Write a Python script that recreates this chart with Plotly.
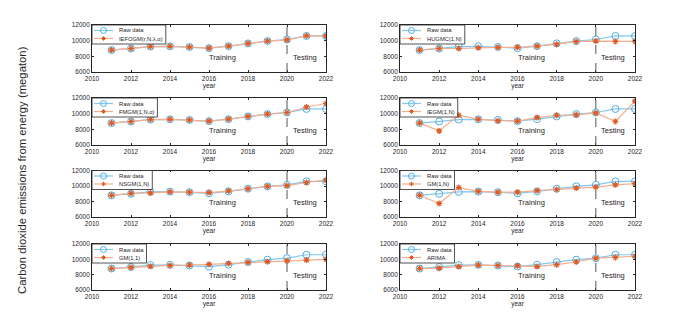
import plotly.graph_objects as go

years = list(range(2011, 2023))
raw = [8800, 9000, 9250, 9280, 9200, 9050, 9300, 9650, 9950, 10150, 10600, 10600]

model_names = ["IEFOGM(r,N,λ,α)", "HUGMC(1,N)", "FMGM(1,N,α)", "IEGM(1,N)",
               "NSGM(1,N)", "GM(1,N)", "GM(1,1)", "ARIMA"]
iefogm = [8800, 9000, 9250, 9280, 9200, 9050, 9300, 9650, 9950, 10100, 10620, 10600]
hugmc = [8800, 9000, 9000, 9100, 9150, 9150, 9300, 9550, 9900, 9950, 9900, 9900]
fmgm = [8800, 9000, 9250, 9280, 9200, 9050, 9300, 9650, 9950, 10150, 10850, 11300]
iegm = [8800, 7800, 9800, 9280, 9100, 9050, 9500, 9800, 9850, 10100, 9000, 11600]
nsgm = [8800, 9050, 9100, 9250, 9200, 9150, 9350, 9650, 9950, 10050, 10450, 10750]
gm1n = [8800, 7750, 9800, 9300, 9200, 9200, 9400, 9550, 9750, 9850, 10150, 10300]
gm11 = [8800, 8950, 9100, 9200, 9250, 9350, 9450, 9600, 9700, 9800, 9900, 10000]
arima = [8800, 8850, 9050, 9250, 9200, 9150, 9050, 9300, 9650, 10150, 10250, 10400]
models = [iefogm, hugmc, fmgm, iegm, nsgm, gm1n, gm11, arima]

x_ticks = [2010, 2012, 2014, 2016, 2018, 2020, 2022]
y_ticks = [6000, 8000, 10000, 12000]

W, H = 700, 332
OFF = 8  # page body margin
def PX(px):
    return (px - OFF) / W
def PY(py):
    return 1 - (py - OFF) / H

col_px = [(92, 326), (400, 635)]
row_px = [(25, 72), (98, 145), (170.5, 217), (244, 290)]

BLUE_L, BLUE_M = "#86C7EC", "#4FAFE2"
ORG_L, ORG_M = "#F6AD8E", "#DE5B24"
TXT = "#262626"
font_family = "Liberation Sans, Arial, sans-serif"
LEG_FS = 5.8

CW = {'I': .278, 'E': .667, 'F': .611, 'O': .778, 'G': .778, 'M': .833, 'H': .722, 'U': .722,
      'C': .722, 'N': .722, 'S': .667, 'A': .667, 'R': .722, '(': .333, ')': .333, ',': .278,
      'r': .333, 'λ': .5, 'α': .55, ' ': .278, 'a': .556, 'w': .722, 'd': .556, 't': .278, '1': .556}
def textw(s, fs):
    return sum(CW.get(ch, .556) for ch in s) * fs

fig = go.Figure()
shapes = []
annotations = []

for i, (name, vals) in enumerate(zip(model_names, models)):
    r, c = divmod(i, 2)
    k = i + 1
    xa = "x" if k == 1 else f"x{k}"
    ya = "y" if k == 1 else f"y{k}"
    x0, x1 = col_px[c]
    y0, y1 = row_px[r]
    fig.add_trace(go.Scatter(x=years, y=raw, mode="lines+markers", name="Raw data",
                             line=dict(color=BLUE_L, width=1.2),
                             marker=dict(symbol="circle-open", size=7, color=BLUE_M, line=dict(width=1)),
                             xaxis=xa, yaxis=ya, showlegend=False))
    fig.add_trace(go.Scatter(x=years, y=vals, mode="lines+markers", name=name,
                             line=dict(color=ORG_L, width=1.2),
                             marker=dict(symbol="asterisk-open", size=5, color=ORG_M, line=dict(width=1.2, color=ORG_M)),
                             xaxis=xa, yaxis=ya, showlegend=False))
    axcommon = dict(showgrid=False, zeroline=False, showline=True, mirror="ticks",
                    linecolor=TXT, linewidth=0.8, ticks="inside", ticklen=2,
                    tickcolor=TXT, tickfont=dict(size=6.5, color=TXT, family=font_family))
    fig.update_layout(**{
        ("xaxis" if k == 1 else f"xaxis{k}"): dict(
            domain=[PX(x0), PX(x1)], range=[2010, 2022], tickvals=x_ticks, anchor=ya,
            title=dict(text="year", font=dict(size=6.5, color=TXT, family=font_family), standoff=1),
            automargin=False, **axcommon),
        ("yaxis" if k == 1 else f"yaxis{k}"): dict(
            domain=[PY(y1), PY(y0)], range=[6000, 12000], tickvals=y_ticks,
            tickformat="d", anchor=xa, automargin=False, **axcommon),
    })
    # vertical train/test split
    shapes.append(dict(type="line", xref=xa, yref=f"{ya} domain", x0=2020, x1=2020, y0=0, y1=1,
                       line=dict(color="#555555", width=1, dash="dash")))
    annotations.append(dict(x=2016.7, y=7900, xref=xa, yref=ya, text="Training", showarrow=False,
                            font=dict(size=7.5, color=TXT, family=font_family)))
    annotations.append(dict(x=2020.9, y=7900, xref=xa, yref=ya, text="Testing", showarrow=False,
                            font=dict(size=7.5, color=TXT, family=font_family)))

    # legend box (manual, compact like MATLAB)
    bw = 26 + max(textw("Raw data", LEG_FS), textw(name, LEG_FS)) + 4
    bh = 19
    lx0 = x0
    shapes.append(dict(type="rect", xref="paper", yref="paper", x0=PX(lx0), x1=PX(lx0 + bw),
                       y0=PY(y0 + bh), y1=PY(y0), fillcolor="white",
                       line=dict(color=TXT, width=0.8), layer="above"))
    rows = [(y0 + 5.5, BLUE_L, "Raw data"), (y0 + 13.5, ORG_L, name)]
    for j, (ry, lc, label) in enumerate(rows):
        shapes.append(dict(type="line", xref="paper", yref="paper", x0=PX(lx0 + 2), x1=PX(lx0 + 21),
                           y0=PY(ry), y1=PY(ry), line=dict(color=lc, width=1.2), layer="above"))
        cx = lx0 + 11.5
        if j == 0:
            shapes.append(dict(type="circle", xref="paper", yref="paper",
                               x0=PX(cx - 3), x1=PX(cx + 3), y0=PY(ry + 3), y1=PY(ry - 3),
                               line=dict(color=BLUE_M, width=1), fillcolor="rgba(0,0,0,0)", layer="above"))
        else:
            a = 2.2
            d = a * 0.7
            path = (f"M{PX(cx - a)},{PY(ry)} L{PX(cx + a)},{PY(ry)} "
                    f"M{PX(cx)},{PY(ry - a)} L{PX(cx)},{PY(ry + a)} "
                    f"M{PX(cx - d)},{PY(ry - d)} L{PX(cx + d)},{PY(ry + d)} "
                    f"M{PX(cx - d)},{PY(ry + d)} L{PX(cx + d)},{PY(ry - d)}")
            shapes.append(dict(type="path", xref="paper", yref="paper", path=path,
                               line=dict(color=ORG_M, width=1), layer="above"))
        annotations.append(dict(x=PX(lx0 + 25), y=PY(ry), xref="paper", yref="paper",
                                xanchor="left", yanchor="middle", text=label, showarrow=False,
                                font=dict(size=LEG_FS, color=TXT, family=font_family)))

annotations.append(dict(x=PX(22), y=PY(170), xref="paper", yref="paper", textangle=-90,
                        xanchor="center", yanchor="middle",
                        text="Carbon dioxide emissions from energy (megaton)", showarrow=False,
                        font=dict(size=11.3, color=TXT, family=font_family)))

fig.update_layout(width=W, height=H, margin=dict(l=0, r=0, t=0, b=0, autoexpand=False),
                  paper_bgcolor="white", plot_bgcolor="white",
                  shapes=shapes, annotations=annotations, showlegend=False)

fig.write_html("out.html")
